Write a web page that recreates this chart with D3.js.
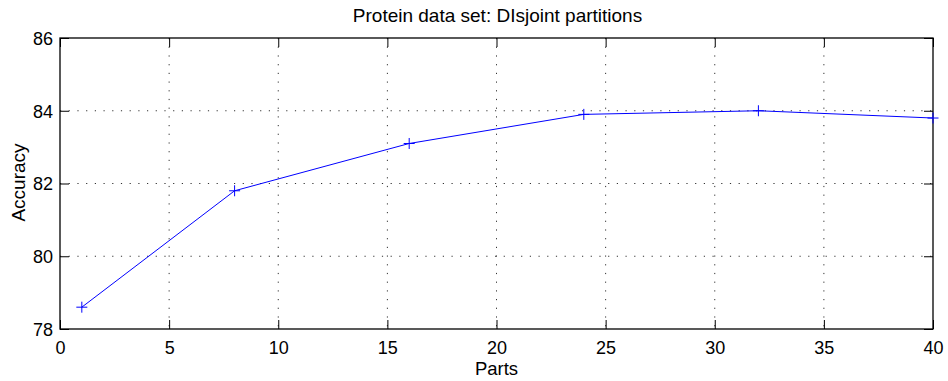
<!DOCTYPE html>
<html>
<head>
<meta charset="utf-8">
<script src="https://cdn.jsdelivr.net/npm/d3@7"></script>
<style>
  html, body { margin: 0; padding: 0; background: #fff; }
  svg { display: block; font-family: "Liberation Sans", Arial, Helvetica, sans-serif; }
</style>
</head>
<body>
<svg id="chart" width="948" height="381"></svg>
<script>
// Accuracy against number of disjoint parts
const parts = [1, 8, 16, 24, 32, 40];
const accuracy = [78.6, 81.8, 83.1, 83.9, 84.0, 83.8];
const xTicks = [0, 5, 10, 15, 20, 25, 30, 35, 40];
const yTicks = [78, 80, 82, 84, 86];
const titleText = "Protein data set: DIsjoint partitions";
const xLabel = "Parts";
const yLabel = "Accuracy";

const svg = d3.select("#chart");
const margin = { left: 60, right: 15, top: 38, bottom: 52 };
const W = 948, H = 381;
const x = d3.scaleLinear().domain([0, 40]).range([margin.left, W - margin.right]);
const y = d3.scaleLinear().domain([78, 86]).range([H - margin.bottom, margin.top]);
const x0 = x.range()[0], x1 = x.range()[1];
const y0 = y.range()[0], y1 = y.range()[1];

// dotted grid
const grid = svg.append("g").attr("stroke", "#333").attr("stroke-width", 1)
  .attr("stroke-dasharray", "1.2,7.5");
grid.selectAll(".gx").data(xTicks.filter(d => d > 0 && d < 40)).join("line")
  .attr("x1", d => x(d)).attr("x2", d => x(d)).attr("y1", y1).attr("y2", y0);
grid.selectAll(".gy").data(yTicks.filter(d => d > 78 && d < 86)).join("line")
  .attr("y1", d => y(d)).attr("y2", d => y(d)).attr("x1", x0).attr("x2", x1);

// axes: ticks point inward on all four sides
const tickLen = 9;
const axB = svg.append("g").attr("transform", `translate(0,${y0})`)
  .call(d3.axisBottom(x).tickValues(xTicks).tickSizeInner(-tickLen).tickSizeOuter(0));
const axT = svg.append("g").attr("transform", `translate(0,${y1})`)
  .call(d3.axisTop(x).tickValues(xTicks).tickSizeInner(-tickLen).tickSizeOuter(0).tickFormat(""));
const axL = svg.append("g").attr("transform", `translate(${x0},0)`)
  .call(d3.axisLeft(y).tickValues(yTicks).tickSizeInner(-tickLen).tickSizeOuter(0).tickPadding(7));
const axR = svg.append("g").attr("transform", `translate(${x1},0)`)
  .call(d3.axisRight(y).tickValues(yTicks).tickSizeInner(-tickLen).tickSizeOuter(0).tickFormat(""));
[axB, axT, axL, axR].forEach(a => {
  a.select(".domain").remove();
  a.selectAll(".tick line").attr("stroke", "#000").attr("stroke-width", 1);
  a.selectAll("text").attr("fill", "#000").attr("font-size", 18)
    .attr("font-family", "Liberation Sans, Arial, sans-serif");
});
axB.selectAll("text").attr("y", 25).attr("dy", 0);
axL.selectAll("text").attr("dy", "0.36em");

// frame
svg.append("rect").attr("x", x0).attr("y", y1).attr("width", x1 - x0).attr("height", y0 - y1)
  .attr("fill", "none").attr("stroke", "#000").attr("stroke-width", 1.3);

// series
const pts = parts.map((p, i) => [p, accuracy[i]]);
svg.append("path").datum(pts)
  .attr("fill", "none").attr("stroke", "#0000ff").attr("stroke-width", 1)
  .attr("d", d3.line().x(d => x(d[0])).y(d => y(d[1])));
const m = 5.5;
svg.append("g").attr("stroke", "#0000ff").attr("stroke-width", 1)
  .selectAll("path").data(pts).join("path")
  .attr("d", d => {
    const cx = x(d[0]), cy = y(d[1]);
    return `M${cx - m},${cy}H${cx + m}M${cx},${cy - m}V${cy + m}`;
  });

// titles
svg.append("text").attr("x", (x0 + x1) / 2 + 1).attr("y", 22).attr("text-anchor", "middle")
  .attr("font-size", 19).attr("fill", "#000").text(titleText);
svg.append("text").attr("x", (x0 + x1) / 2).attr("y", 375).attr("text-anchor", "middle")
  .attr("font-size", 18.5).attr("fill", "#000").text(xLabel);
svg.append("text").attr("transform", `translate(25,${(y0 + y1) / 2 - 1}) rotate(-90)`)
  .attr("text-anchor", "middle").attr("font-size", 19).attr("fill", "#000").text(yLabel);
</script>
</body>
</html>
